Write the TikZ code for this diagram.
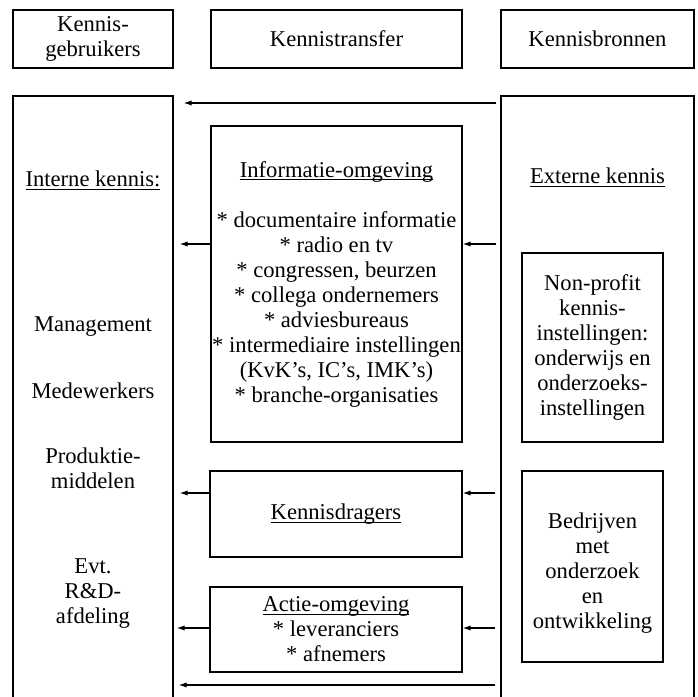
\documentclass[tikz,border=0pt]{standalone}
\usepackage{fontspec}
\setmainfont{Liberation Serif}
\usetikzlibrary{arrows.meta,positioning,calc}
% onderstreping vlak onder de basislijn
\newcommand{\ondst}[1]{\leavevmode\setbox0\hbox{#1}\rlap{\rule[-1.7pt]{\wd0}{0.5pt}}\box0}

\begin{document}
\begin{tikzpicture}[>=Latex, x=0.5pt, y=-0.5pt, line width=0.6pt,
    font=\fontsize{11.3}{12.5}\selectfont]
  \tikzstyle{kop}=[draw, align=center, minimum height=29pt, inner sep=0pt]
  \tikzstyle{kolom}=[draw, minimum height=304.5pt, inner sep=0pt]
  \tikzstyle{blok}=[draw, align=center, inner sep=0pt]
  \tikzstyle{tekst}=[align=center, inner sep=0pt]
  \tikzstyle{pijl}=[->, >={Latex[length=4pt,width=2.6pt]}]
  \clip (0,0) rectangle (697,697);
  % kopjes
  \node[kop, minimum width=80pt] (gebr) at (93,39) {Kennis-\\gebruikers};
  \node[kop, minimum width=125.5pt] (transfer) at (336.5,39) {Kennistransfer};
  \node[kop, minimum width=96.5pt] (bronnen) at (597.5,39) {Kennisbronnen};
  % kolommen (onderkant valt buiten beeld)
  \node[kolom, minimum width=80pt] (links) at (93,400.5) {};
  \node[kolom, minimum width=96.5pt] (rechts) at (597.5,400.5) {};
  % kennistransfer
  \node[blok, minimum width=125.5pt, minimum height=158pt] (info) at (336.5,284)
    {\ondst{Informatie-omgeving}\\[12.5pt]
     * documentaire informatie\\ * radio en tv\\ * congressen, beurzen\\
     * collega ondernemers\\ * adviesbureaus\\ * intermediaire instellingen\\
     (KvK's, IC's, IMK's)\\ * branche-organisaties};
  \node[blok, minimum width=126pt, minimum height=43pt] (drag) at (336,514)
    {\ondst{Kennisdragers}};
  \node[blok, minimum width=126pt, minimum height=42.5pt] (actie) at (336,629.5)
    {\ondst{Actie-omgeving}\\ * leveranciers\\ * afnemers};
  % kennisbronnen
  \node[tekst] (extern) at (597.5,177) {\ondst{Externe kennis}};
  \node[blok, minimum width=70.5pt, minimum height=94.5pt] (nonprofit) at (592.5,347.5)
    {Non-profit\\kennis-\\instellingen:\\onderwijs en\\onderzoeks-\\instellingen};
  \node[blok, minimum width=70.5pt, minimum height=95.5pt] (bedrijven) at (592.5,566.5)
    {\rule{0pt}{14pt}Bedrijven\\met\\onderzoek\\en\\ontwikkeling};
  % kennisgebruikers
  \node[tekst] (intern) at (93,180) {\ondst{Interne kennis:}};
  \node[tekst] (mgmt) at (93,327) {Management};
  \node[tekst] (mdw) at (93,391) {Medewerkers};
  \node[tekst] (prod) at (93,468.5) {Produktie-\\middelen};
  \node[tekst] (rd) at (93,594) {Evt.\\R\&D-\\afdeling};
  % pijlen
  \coordinate (hTop) at (0,103);
  \coordinate (hInfo) at (0,244);
  \coordinate (hDrag) at (0,493);
  \coordinate (hActie) at (0,628);
  \coordinate (hBodem) at (0,685);
  \draw[pijl] ($(rechts.west |- hTop)+(-4,0)$) -- ($(links.east |- hTop)+(10,0)$);
  \draw[pijl] (info.west |- hInfo) -- ($(links.east |- hInfo)+(6,0)$);
  \draw[pijl] ($(rechts.west |- hInfo)+(-4,0)$) -- (info.east |- hInfo);
  \draw[pijl] (drag.west |- hDrag) -- ($(links.east |- hDrag)+(6,0)$);
  \draw[pijl] ($(rechts.west |- hDrag)+(-5,0)$) -- (drag.east |- hDrag);
  \draw[pijl] (actie.west |- hActie) -- ($(links.east |- hActie)+(3,0)$);
  \draw[pijl] ($(rechts.west |- hActie)+(-5,0)$) -- (actie.east |- hActie);
  \draw[pijl] ($(rechts.west |- hBodem)+(-5,0)$) -- ($(links.east |- hBodem)+(5,0)$);
\end{tikzpicture}
\end{document}
